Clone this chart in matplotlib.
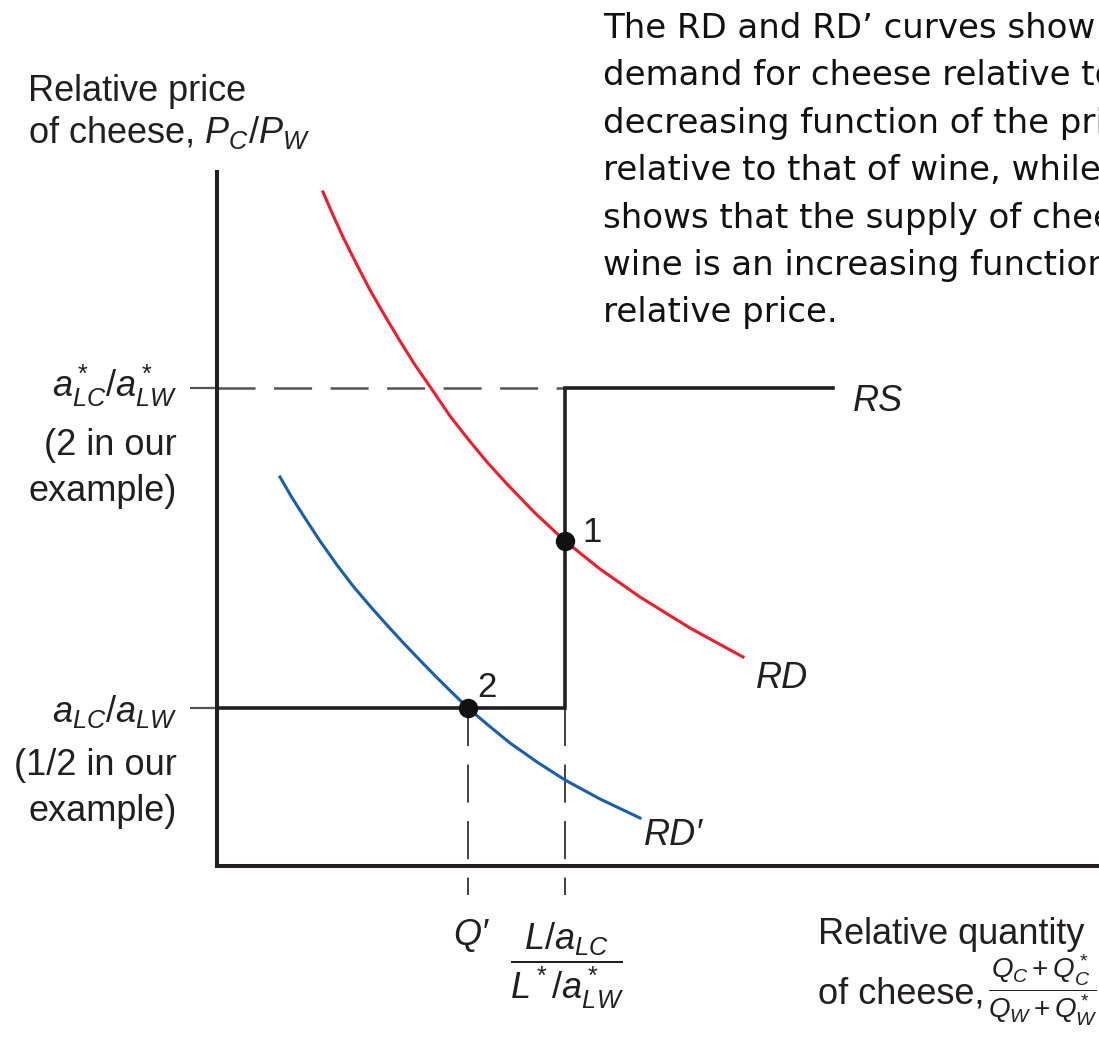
import numpy as np
import matplotlib.pyplot as plt

plt.rcParams['font.family'] = ['Liberation Sans', 'DejaVu Sans']
plt.rcParams['mathtext.fontset'] = 'custom'
plt.rcParams['mathtext.rm'] = 'Liberation Sans'
plt.rcParams['mathtext.it'] = 'Liberation Sans:italic'
plt.rcParams['mathtext.bf'] = 'Liberation Sans:bold'
plt.rcParams['lines.scale_dashes'] = False

# ---- data (diagram units: relative quantity on x, relative price on y) ----
rd_q = [1.06, 1.16, 1.26, 1.39, 1.53, 1.68, 1.83, 1.98, 2.14, 2.33, 2.51,
        2.70, 2.90, 3.18, 3.48, 3.83, 4.23, 4.73, 5.26]
rd_p = [6.74, 6.51, 6.29, 6.03, 5.76, 5.50, 5.25, 5.01, 4.78, 4.50, 4.27,
        4.04, 3.82, 3.53, 3.25, 2.97, 2.69, 2.38, 2.09]

rdp_q = [0.63, 0.74, 0.86, 1.03, 1.20, 1.36, 1.53, 1.69, 1.86, 2.03, 2.20,
         2.35, 2.51, 2.71, 2.93, 3.20, 3.48, 3.83, 4.23]
rdp_p = [3.89, 3.70, 3.51, 3.25, 3.01, 2.80, 2.60, 2.42, 2.235, 2.057, 1.883,
         1.735, 1.58, 1.41, 1.23, 1.04, 0.86, 0.67, 0.48]

p_low = 1.58    # a_LC / a_LW
p_high = 4.78   # a*_LC / a*_LW
q_prime = 2.51  # Q'
q_kink = 3.48   # (L/a_LC) / (L*/a*_LW)
q_rs_end = 6.16

rs_q = [0, q_kink, q_kink, q_rs_end]
rs_p = [p_low, p_low, p_high, p_high]

eq_q = [q_kink, q_prime]
eq_p = [3.25, p_low]
eq_labels = ['1', '2']

y_top = 6.96
x_right = 9.5

para_lines = [
    "The RD and RD\u2019 curves show that the",
    "demand for cheese relative to wine is a",
    "decreasing function of the price of cheese",
    "relative to that of wine, while the RS curve",
    "shows that the supply of cheese relative to",
    "wine is an increasing function of the same",
    "relative price.",
]

# ---- figure ----
W, H = 1099, 1038
fig = plt.figure(figsize=(W / 100, H / 100), dpi=100)
ax = fig.add_axes([0, 0, 1, 1])
ax.set_xlim(-2.17, (W - 217) / 100)
ax.set_ylim(-(H - 866) / 100, 8.66)
ax.axis('off')

ink = '#231f20'
fs = 26

# axes
ax.plot([0, 0, x_right], [y_top, 0, 0], color=ink, lw=2.9,
        solid_joinstyle='miter', solid_capstyle='butt', zorder=3)

# tick stubs on the price axis
ax.hlines([p_low, p_high], -0.27, 0, color='#555555', lw=1.6, zorder=2)

# dashed guide lines
ax.plot([0, q_kink], [p_high, p_high], color='#555555', lw=1.8,
        dashes=(27.4, 13.3), zorder=1)
for q in [q_prime, q_kink]:
    ax.plot([q, q], [p_low, -0.29], color='#333333', lw=1.3,
            dashes=(27.4, 13.3), zorder=1)

# RS
ax.plot(rs_q, rs_p, color=ink, lw=2.6, solid_joinstyle='miter', zorder=3)

# demand curves
ax.plot(rd_q, rd_p, color='#ee1d2b', lw=2.2, zorder=4)
ax.plot(rdp_q, rdp_p, color='#1a5eae', lw=2.2, zorder=4)

# equilibria
ax.plot(eq_q, eq_p, 'o', color='#111111', ms=13, zorder=5)
offsets = [(17, -1), (9, 11)]
for q, p, lab, off in zip(eq_q, eq_p, eq_labels, offsets):
    ax.annotate(lab, (q, p), xytext=off, textcoords='offset pixels',
                fontsize=fs - 1, color=ink, va='baseline', ha='left')


def txt(x, y, s, **kw):
    kw.setdefault('fontsize', fs)
    kw.setdefault('color', ink)
    kw.setdefault('va', 'baseline')
    fig.text(x / W, 1 - y / H, s, **kw)


# price-axis labels
txt(28, 101, "Relative price")
txt(28, 143, "of cheese, $P_C/P_W$")
txt(177, 397, r"$a^*_{LC}/a^*_{LW}$", ha='right')
txt(177, 455, "(2 in our", ha='right')
txt(177, 501, "example)", ha='right')
txt(177, 722, r"$a_{LC}/a_{LW}$", ha='right')
txt(177, 775, "(1/2 in our", ha='right')
txt(177, 821, "example)", ha='right')

# curve labels
txt(853, 411, "RS", style='italic')
txt(756, 688, "RD", style='italic')
txt(644, 845, "RD\u2032", style='italic')

# quantity-axis labels
txt(471, 945, "Q\u2032", style='italic', ha='center')
txt(567, 966, r"$\dfrac{L/a_{LC}}{L^*/a^*_{LW}}$", ha='center', va='center')
txt(818, 944, "Relative quantity")
txt(818, 1003, "of cheese,")
txt(988, 990, r"$\dfrac{Q_C + Q^*_C}{Q_W + Q^*_W}$", fontsize=20,
    ha='left', va='center')

# explanatory paragraph (runs off the right edge as in the source)
for i, line in enumerate(para_lines):
    txt(603, 38 + 47.4 * i, line, family='DejaVu Sans', fontsize=24.5,
        color='#111111')

fig.savefig('out.png', dpi=100)
